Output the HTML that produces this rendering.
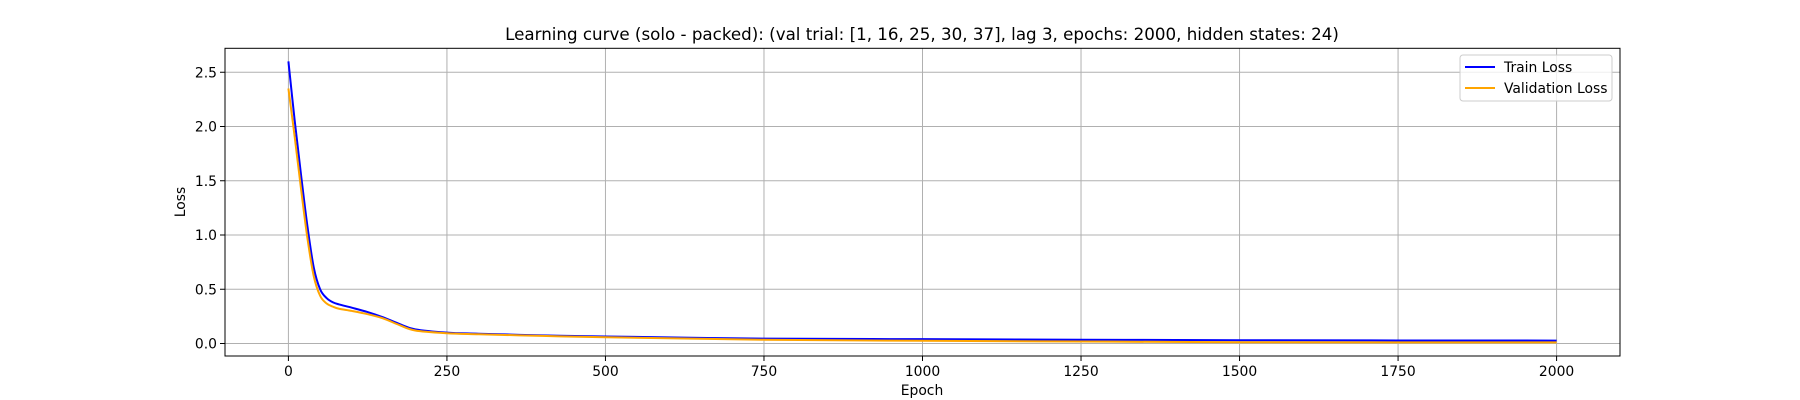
<!DOCTYPE html>
<html><head><meta charset="utf-8"><style>
body{margin:0;background:#fff}
svg{display:block;font-family:"DejaVu Sans","Liberation Sans",sans-serif}
</style></head><body>
<svg id="chart" width="1800" height="400" xmlns="http://www.w3.org/2000/svg">
<text x="922" y="40" font-size="16.7" text-anchor="middle" fill="#000">Learning curve (solo - packed): (val trial: [1, 16, 25, 30, 37], lag 3, epochs: 2000, hidden states: 24)</text>
<g id="grid"></g><g id="series"></g><g id="axes"></g>
<g>
<rect x="1460" y="55" width="152" height="46" rx="3" fill="#fff" fill-opacity="0.8" stroke="#ccc"/>
<line x1="1465" y1="67" x2="1495" y2="67" stroke="#0000ff" stroke-width="2"/>
<text x="1504" y="72" font-size="13.9">Train Loss</text>
<line x1="1465" y1="88" x2="1495" y2="88" stroke="#ffa500" stroke-width="2"/>
<text x="1504" y="93" font-size="13.9">Validation Loss</text>
</g>
<text x="922" y="395" font-size="13.9" text-anchor="middle">Epoch</text>
<text transform="translate(185,202) rotate(-90)" font-size="13.9" text-anchor="middle">Loss</text>
</svg>
<script>
const epochs=[0,10,20,30,40,50,60,70,80,100,125,150,175,200,250,300,400,500,750,1000,1250,1500,1750,2000];
const trainLoss=[2.60,2.05,1.55,1.08,0.70,0.50,0.42,0.38,0.36,0.33,0.29,0.24,0.18,0.13,0.10,0.09,0.075,0.065,0.045,0.04,0.035,0.03,0.028,0.027];
const valLoss=[2.35,1.90,1.42,0.97,0.62,0.44,0.37,0.34,0.32,0.30,0.27,0.23,0.17,0.12,0.095,0.085,0.07,0.058,0.035,0.025,0.018,0.012,0.01,0.01];
const xTicks=[0,250,500,750,1000,1250,1500,1750,2000];
const yTicks=[0,0.5,1.0,1.5,2.0,2.5];
const L=225,R=1620,T=48.3,B=356;
const x=v=>L+(v+100)/2200*(R-L);
const y=v=>343.5-v*108.5;
const NS='http://www.w3.org/2000/svg';
function mk(t,a,p){const e=document.createElementNS(NS,t);for(const k in a)e.setAttribute(k,a[k]);p.appendChild(e);return e;}
const grid=document.getElementById('grid'),axes=document.getElementById('axes'),ser=document.getElementById('series');
xTicks.forEach(t=>{
 const g=mk('line',{x1:x(t),x2:x(t),y1:T,y2:B,stroke:'#b0b0b0','stroke-width':1},grid);
 
 
 mk('line',{x1:x(t),x2:x(t),y1:B,y2:B+5,stroke:'#000'},axes);
 const tx=mk('text',{x:x(t),y:B+20,'font-size':13.9,'text-anchor':'middle'},axes);
 tx.textContent=t;
 
 
});
yTicks.forEach(t=>{
 const g=mk('line',{x1:L,x2:R,y1:y(t),y2:y(t),stroke:'#b0b0b0','stroke-width':1},grid);
 
 
 mk('line',{x1:L-5,x2:L,y1:y(t),y2:y(t),stroke:'#000'},axes);
 const tx=mk('text',{x:L-8,y:y(t)+5,'font-size':13.9,'text-anchor':'end'},axes);
 tx.textContent=t.toFixed(1);
 
 
});
const fr=mk('rect',{x:L,y:T,width:R-L,height:B-T,fill:'none',stroke:'#000','stroke-width':1},axes);


function path(vals){
 const p=epochs.map((e,i)=>[x(e),y(vals[i])]);
 let d='M'+p[0][0]+','+p[0][1];
 for(let i=0;i<p.length-1;i++){
  const p0=p[i-1]||p[i],p1=p[i],p2=p[i+1],p3=p[i+2]||p2;
  const c1=[p1[0]+(p2[0]-p0[0])/6,p1[1]+(p2[1]-p0[1])/6];
  const c2=[p2[0]-(p3[0]-p1[0])/6,p2[1]-(p3[1]-p1[1])/6];
  d+=' C'+c1+' '+c2+' '+p2;
 }
 return d;
}
const tl=mk('path',{d:path(trainLoss),fill:'none',stroke:'#0000ff','stroke-width':2},ser);


const vl=mk('path',{d:path(valLoss),fill:'none',stroke:'#ffa500','stroke-width':2},ser);


</script>
</body></html>
